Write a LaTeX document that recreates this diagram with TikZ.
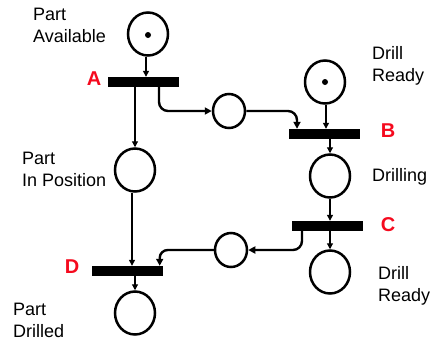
\documentclass[tikz,border=0pt]{standalone}
\usepackage{fontspec}
\setmainfont{Liberation Sans}
\usetikzlibrary{shapes.geometric,arrows.meta}
\definecolor{labred}{RGB}{245,10,30}
\begin{document}
\begin{tikzpicture}[x=1pt,y=-1pt,
  place/.style={draw,ellipse,line width=2.5pt,minimum width=40pt,minimum height=43pt,inner sep=0pt},
  smallplace/.style={draw,ellipse,line width=2.5pt,minimum width=32pt,minimum height=34pt,inner sep=0pt},
  trans/.style={fill=black,draw=none,rectangle,minimum width=71pt,minimum height=10pt,inner sep=0pt},
  token/.style={fill=black,circle,minimum size=6pt,inner sep=0pt},
  arc/.style={line width=1.2pt,-{Triangle[length=6pt,width=6pt]}},
  thickarc/.style={line width=2.4pt,rounded corners=9pt,-{Triangle[length=7pt,width=7pt]}},
  lbl/.style={font=\fontsize{18}{22}\selectfont,align=left,anchor=west,inner sep=0pt},
  tlbl/.style={font=\fontsize{20}{22}\selectfont\bfseries,text=labred,inner sep=0pt}
]
\useasboundingbox (0,0) rectangle (433,343);
% places
\node[place] (pa) at (148,34) {};
\node[token] (ta) at (148,35) {};
\node[place] (pp) at (135,170) {};
\node[place] (pd) at (135,313) {};
\node[place] (dr1) at (325,82) {};
\node[token] (tk2) at (325,82) {};
\node[place] (dg) at (330,176) {};
\node[place] (dr2) at (330,272) {};
\node[smallplace] (m1) at (229,111) {};
\node[smallplace] (m2) at (231,250) {};
% transitions
\node[trans] (tA) at (143,82) {};
\node[trans] (tB) at (324,134) {};
\node[trans] (tC) at (327,226) {};
\node[trans] (tD) at (127,271) {};
% transition labels
\node[tlbl] (lA) at (94,79) {A};
\node[tlbl] (lB) at (388,131) {B};
\node[tlbl] (lC) at (388,225) {C};
\node[tlbl] (lD) at (72,267) {D};
% place labels
\node[lbl] (t1) at (33,25) {Part\\Available};
\node[lbl] (t2) at (22,169) {Part\\In Position};
\node[lbl] (t3) at (13,320) {Part\\Drilled};
\node[lbl] (t4) at (372,66) {Drill\\Ready};
\node[lbl] (t5) at (372,177) {Drilling};
\node[lbl] (t6) at (378,286) {Drill\\Ready};
% arcs
\draw[arc] ([xshift=-2pt]pa.south) -- ([xshift=-2pt]pa.south |- tA.north);
\draw[arc] (tA.south -| pp) -- (pp.north);
\draw[thickarc] ([xshift=16pt]tA.south) |- (m1.west);
\draw[thickarc] (m1.east) -| ([xshift=-27pt]tB.north);
\draw[arc] ([xshift=1pt]dr1.south) -- ([xshift=1pt]dr1.south |- tB.north);
\draw[arc] (tB.south -| dg) -- (dg.north);
\draw[arc] (dg.south) -- (dg.south |- tC.north);
\draw[arc] (tC.south -| dr2) -- (dr2.north);
\draw[thickarc] ([xshift=-25pt]tC.south) |- (m2.east);
\draw[thickarc,rounded corners=8pt] (m2.west) -| ([xshift=-3pt]tD.north east);
\draw[arc] ([xshift=-3pt]pp.south) -- ([xshift=-3pt]pp.south |- tD.north);
\draw[arc] (tD.south -| pd) -- (pd.north);
\end{tikzpicture}
\end{document}
